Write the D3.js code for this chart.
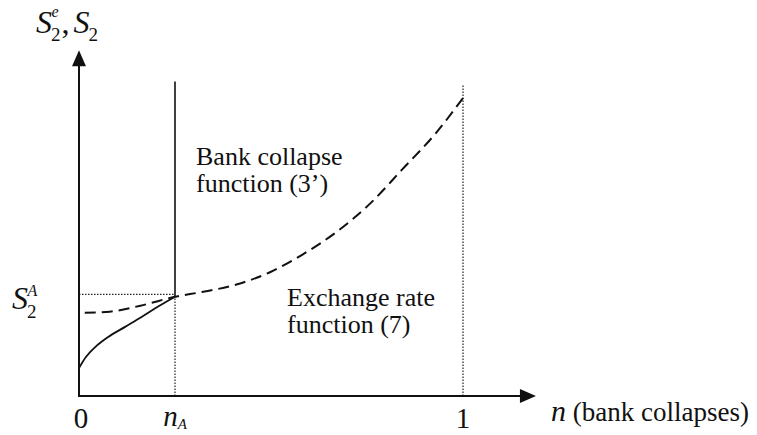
<!DOCTYPE html>
<html>
<head>
<meta charset="utf-8">
<script src="https://cdn.jsdelivr.net/npm/d3@7"></script>
<style>
  body { margin: 0; background: #fff; }
  svg { display: block; }
</style>
</head>
<body>
<div id="chart"></div>
<script>
// values (n on the x axis, S on the y axis, S at n = 1 taken as 1)
const nA = 0.25
const sA = 0.333
const nMax = 1.19 // x axis arrow tip
const sMax = 1.16 // y axis arrow tip
const collapseTop = 1.055 // top of the bank collapse line
const guideTop = 1.045 // top of the dotted line at n = 1

// exchange rate function (7), dashed
const exchangeN = [0.015, 0.08, 0.16, 0.25, 0.32, 0.41, 0.5, 0.58, 0.67, 0.76, 0.84, 0.93, 1.0]
const exchangeS = [0.279, 0.283, 0.303, 0.333, 0.349, 0.374, 0.417, 0.473, 0.55, 0.648, 0.758, 0.883, 1.0]

// solid curve from the y axis up to the equilibrium point
const curveN = [0, 0.018, 0.042, 0.076, 0.12, 0.164, 0.206, 0.25]
const curveS = [0.094, 0.131, 0.164, 0.198, 0.232, 0.266, 0.3, 0.333]

const xTicks = [0, nA, 1]

const width = 757
const height = 435
const serif = '"Liberation Serif", "Times New Roman", Tinos, "Nimbus Roman", "DejaVu Serif", "Noto Serif", serif'

const x = d3.scaleLinear().domain([0, 1]).range([79, 463])
const y = d3.scaleLinear().domain([0, 1]).range([396, 98])

const svg = d3.select('#chart').append('svg')
  .attr('width', width)
  .attr('height', height)
  .attr('font-family', serif)
  .style('font-family', serif)

svg.append('rect')
  .attr('width', width)
  .attr('height', height)
  .attr('fill', '#fff')

const line = d3.line()
  .x(d => x(d[0]))
  .y(d => y(d[1]))
  .curve(d3.curveMonotoneX)

// dotted guides
const dotted = [
  [[0, sA + 0.008], [nA, sA + 0.008]],
  [[nA, 0], [nA, sA]],
  [[1, 0], [1, guideTop]]
]
svg.selectAll('.guide')
  .data(dotted)
  .join('path')
  .attr('class', 'guide')
  .attr('d', d3.line().x(d => x(d[0])).y(d => y(d[1])))
  .attr('fill', 'none')
  .attr('stroke', '#222')
  .attr('stroke-width', 1.2)
  .attr('stroke-dasharray', '1.5,1.5')

// bank collapse function (3')
svg.append('line')
  .attr('x1', x(nA))
  .attr('x2', x(nA))
  .attr('y1', y(sA))
  .attr('y2', y(collapseTop))
  .attr('stroke', '#111')
  .attr('stroke-width', 1.6)

// exchange rate function (7)
svg.append('path')
  .datum(d3.zip(exchangeN, exchangeS))
  .attr('d', line)
  .attr('fill', 'none')
  .attr('stroke', '#111')
  .attr('stroke-width', 2)
  .attr('stroke-dasharray', '11,6')

svg.append('path')
  .datum(d3.zip(curveN, curveS))
  .attr('d', line)
  .attr('fill', 'none')
  .attr('stroke', '#111')
  .attr('stroke-width', 1.8)

// axes with arrow heads
svg.append('line')
  .attr('x1', x(0)).attr('x2', x(nMax) - 10)
  .attr('y1', y(0)).attr('y2', y(0))
  .attr('stroke', '#111')
  .attr('stroke-width', 2)

svg.append('line')
  .attr('x1', x(0)).attr('x2', x(0))
  .attr('y1', y(0) + 1).attr('y2', y(sMax) + 10)
  .attr('stroke', '#111')
  .attr('stroke-width', 2)

svg.append('path')
  .attr('d', `M${x(nMax)},${y(0)} L${x(nMax) - 16},${y(0) - 7} L${x(nMax) - 16},${y(0) + 7} Z`)
  .attr('fill', '#111')

svg.append('path')
  .attr('d', `M${x(0)},${y(sMax)} L${x(0) - 7},${y(sMax) + 16} L${x(0) + 7},${y(sMax) + 16} Z`)
  .attr('fill', '#111')

// tick labels
const tickLabels = svg.selectAll('.tick-label')
  .data(xTicks)
  .join('text')
  .attr('class', 'tick-label')
  .attr('x', d => x(d) + (d === 0 ? 2 : 0))
  .attr('y', d => d === nA ? 426 : 428)
  .attr('text-anchor', 'middle')
  .attr('fill', '#111')
  .style('font-size', '29px')

tickLabels.filter(d => d !== nA).text(d => d)

tickLabels.filter(d => d === nA)
  .call(t => {
    t.append('tspan').style('font-style', 'italic').style('font-size', '29px').text('n')
    t.append('tspan').attr('dy', 3).style('font-style', 'italic').style('font-size', '15px').text('A')
  })

// x axis title
const xTitle = svg.append('text')
  .attr('x', 551)
  .attr('y', 421)
  .attr('fill', '#111')
  .style('font-size', '27px')
xTitle.append('tspan').style('font-style', 'italic').style('font-size', '30px').text('n')
xTitle.append('tspan').text(' (bank collapses)')

// y axis title  S2e, S2
const yTitle = svg.append('text')
  .attr('x', 36)
  .attr('y', 33)
  .attr('fill', '#111')
  .style('font-size', '32px')
yTitle.append('tspan').style('font-style', 'italic').text('S')
yTitle.append('tspan').attr('dy', 8).attr('dx', -1).style('font-size', '19px').text('2')
yTitle.append('tspan').attr('dy', -24).attr('dx', -9).style('font-style', 'italic').style('font-size', '16px').text('e')
yTitle.append('tspan').attr('dy', 16).attr('dx', 3).text(',')
yTitle.append('tspan').attr('dx', 4).style('font-style', 'italic').text('S')
yTitle.append('tspan').attr('dy', 8).attr('dx', -1).style('font-size', '19px').text('2')

// S2A label at the equilibrium level
const sLabel = svg.append('text')
  .attr('x', 12)
  .attr('y', y(sA) + 12)
  .attr('fill', '#111')
  .style('font-size', '32px')
sLabel.append('tspan').style('font-style', 'italic').text('S')
sLabel.append('tspan').attr('dy', 9).attr('dx', -1).style('font-size', '19px').text('2')
sLabel.append('tspan').attr('dy', -22).attr('dx', -9).style('font-style', 'italic').style('font-size', '16px').text('A')

// curve annotations
const notes = [
  { lines: ['Bank collapse', 'function (3\u2019)'], left: 196, top: 165 },
  { lines: ['Exchange rate', 'function (7)'], left: 287, top: 306 }
]
notes.forEach(n => {
  svg.append('text')
    .attr('x', n.left)
    .attr('y', n.top)
    .attr('fill', '#111')
    .style('font-size', '26px')
    .selectAll('tspan')
    .data(n.lines)
    .join('tspan')
    .attr('x', n.left)
    .attr('dy', (d, i) => i === 0 ? 0 : 27)
    .text(d => d)
})
</script>
</body>
</html>
